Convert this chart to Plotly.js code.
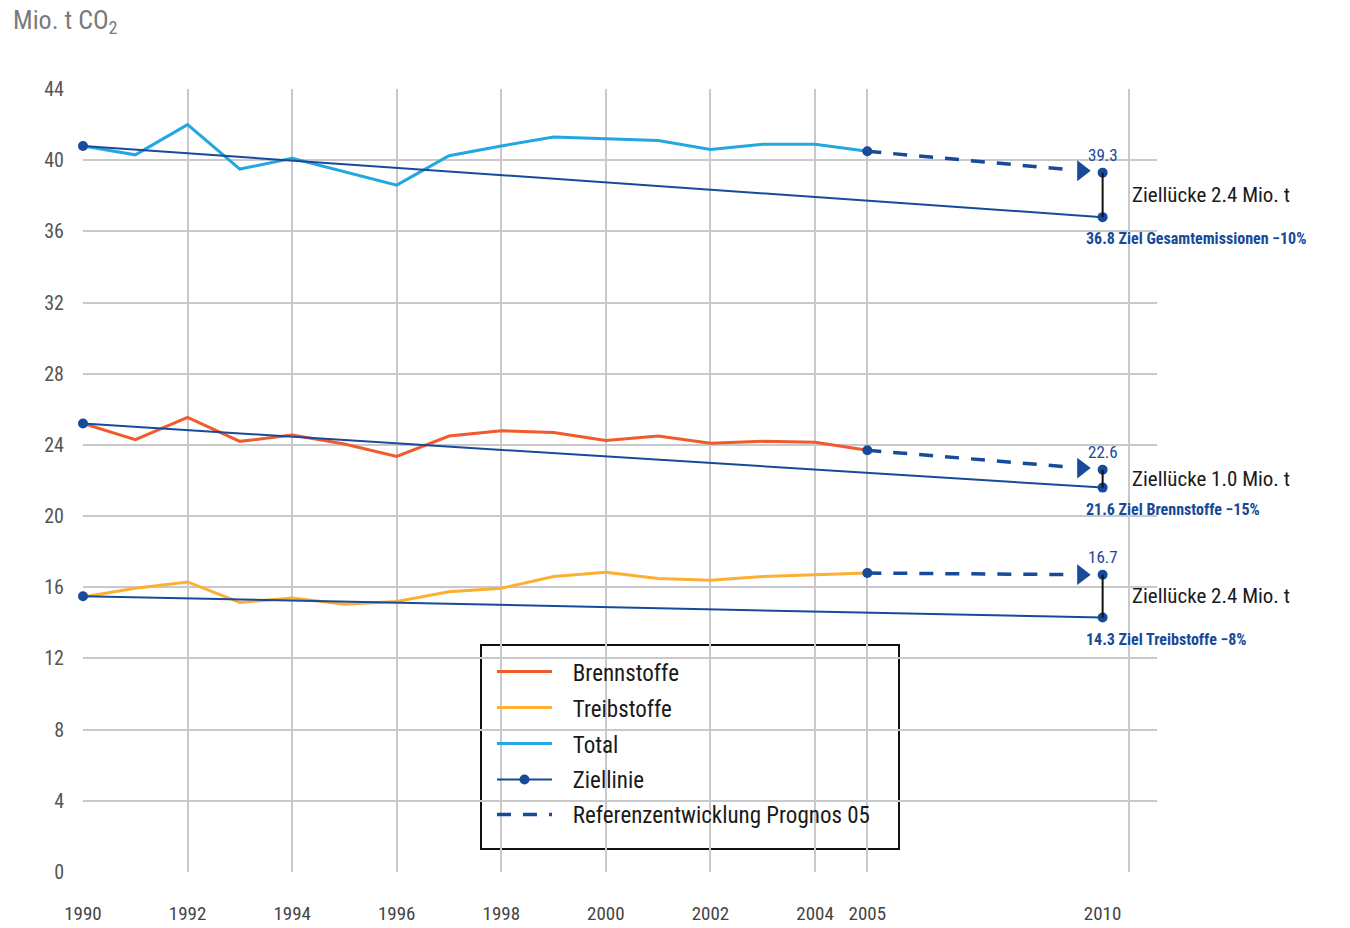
<!DOCTYPE html>
<html><head><meta charset="utf-8">
<script src="https://cdn.plot.ly/plotly-3.0.1.min.js"></script>
<style>html,body{margin:0;padding:0;background:#fff}#chart{width:1350px;height:928px}</style>
</head><body><div id="chart"></div>
<script>
// ---- data ----
const years = [1990,1991,1992,1993,1994,1995,1996,1997,1998,1999,2000,2001,2002,2003,2004,2005];
const brennstoffe = [25.2,24.3,25.55,24.2,24.55,24.05,23.35,24.5,24.8,24.7,24.25,24.5,24.1,24.2,24.15,23.7];
const treibstoffe = [15.45,15.95,16.3,15.15,15.4,15.05,15.2,15.75,15.95,16.6,16.85,16.5,16.4,16.6,16.7,16.8];
const total = [40.8,40.3,42.0,39.5,40.1,39.35,38.6,40.25,40.8,41.3,41.2,41.1,40.6,40.9,40.9,40.5];

// target year 2010 is drawn in the reference slightly left of the 2010 gridline
const zielYears = [1990, 2009.5];
const prognosYears = [2005, 2009.5];
const zielTotal = [40.8, 36.8];
const zielBrenn = [25.2, 21.6];
const zielTreib = [15.5, 14.3];
const progTotal = [40.5, 39.3];
const progBrenn = [23.7, 22.6];
const progTreib = [16.8, 16.7];

const gridYears = [1990,1992,1994,1996,1998,2000,2002,2004,2005,2010];
const labelYears = [1990,1992,1994,1996,1998,2000,2002,2004,2005,2009.5];
const labelText = ['1990','1992','1994','1996','1998','2000','2002','2004','2005','2010'];
const yTicks = [0,4,8,12,16,20,24,28,32,36,40,44];

const seriesNames = ['Brennstoffe','Treibstoffe','Total','Ziellinie','Referenzentwicklung Prognos 05'];
const zielTexts = ['Ziel Gesamtemissionen \u221210%','Ziel Brennstoffe \u221215%','Ziel Treibstoffe \u22128%'];
const gapTexts = ['Ziellücke 2.4 Mio. t','Ziellücke 1.0 Mio. t','Ziellücke 2.4 Mio. t'];

// ---- style ----
const FONT = '"Liberation Sans Narrow", "Arial Narrow", "Roboto Condensed", Roboto, sans-serif';
const C_BRENN = '#F15A2B', C_TREIB = '#FBB034', C_TOTAL = '#22A7E0', NAVY = '#174A9A';
const arrowX = 2009.1;
const PAD = '\u00a0\u00a0\u00a0';

const groups = [
  {ziel: zielTotal, prog: progTotal, zt: zielTexts[0], gt: gapTexts[0]},
  {ziel: zielBrenn, prog: progBrenn, zt: zielTexts[1], gt: gapTexts[1]},
  {ziel: zielTreib, prog: progTreib, zt: zielTexts[2], gt: gapTexts[2]}
];

const traces = [];
traces.push({x: years, y: brennstoffe, mode: 'lines', name: PAD + seriesNames[0], line: {color: C_BRENN, width: 3}, legend: 'legend', cliponaxis: false});
traces.push({x: years, y: treibstoffe, mode: 'lines', name: PAD + seriesNames[1], line: {color: C_TREIB, width: 3}, legend: 'legend2', cliponaxis: false});
traces.push({x: years, y: total, mode: 'lines', name: PAD + seriesNames[2], line: {color: C_TOTAL, width: 3}, legend: 'legend3', cliponaxis: false});

groups.forEach((g, i) => {
  traces.push({x: zielYears, y: g.ziel, mode: 'lines+markers', name: PAD + seriesNames[3],
    line: {color: NAVY, width: 2}, marker: {color: NAVY, size: 10},
    showlegend: i === 0, legend: 'legend4', cliponaxis: false});
});
groups.forEach((g, i) => {
  const frac = (x) => g.prog[0] + (g.prog[1] - g.prog[0]) * ((x - prognosYears[0]) / (prognosYears[1] - prognosYears[0]));
  traces.push({x: [prognosYears[0], arrowX - 0.15], y: [g.prog[0], frac(arrowX - 0.15)],
    mode: 'lines', name: PAD + seriesNames[4],
    line: {color: NAVY, width: 3.5, dash: '14px,12px'},
    showlegend: i === 0, legend: 'legend5', cliponaxis: false});
  traces.push({x: [arrowX], y: [frac(arrowX)], mode: 'markers', showlegend: false, hoverinfo: 'skip',
    marker: {symbol: 'triangle-right', color: NAVY, size: 18}, cliponaxis: false});
  traces.push({x: [prognosYears[1], prognosYears[1]], y: [g.ziel[1], g.prog[1]], mode: 'lines',
    showlegend: false, line: {color: '#111', width: 2}, xaxis: 'x2', cliponaxis: false});
  traces.push({x: prognosYears, y: g.prog, mode: 'markers', showlegend: false,
    marker: {color: NAVY, size: 10}, cliponaxis: false});
});

const annotations = [];
annotations.push({xref: 'paper', yref: 'paper', x: -0.067, y: 1.086, xanchor: 'left', yanchor: 'middle',
  text: 'Mio. t CO<sub>2</sub>', showarrow: false, font: {family: FONT, size: 26, color: '#7a7a7a'}});
groups.forEach((g) => {
  annotations.push({x: prognosYears[1], y: g.prog[1], text: g.prog[1].toFixed(1), showarrow: false,
    xanchor: 'center', yanchor: 'bottom', yshift: 6, font: {family: FONT, size: 17, color: NAVY}});
  annotations.push({x: prognosYears[1], y: g.ziel[1], text: '<b>' + g.ziel[1].toFixed(1) + ' ' + g.zt + '</b>', showarrow: false,
    xanchor: 'left', yanchor: 'top', xshift: -19, yshift: -10, font: {family: FONT, size: 16, color: NAVY}});
  annotations.push({x: prognosYears[1], y: (g.ziel[1] + g.prog[1]) / 2, text: g.gt, showarrow: false,
    xanchor: 'left', yanchor: 'middle', xshift: 27, font: {family: FONT, size: 21, color: '#1a1a1a'}});
});

function leg(yp) {
  return {x: 0.3808, y: yp, xanchor: 'left', yanchor: 'middle', bgcolor: 'rgba(0,0,0,0)', borderwidth: 0,
    font: {family: FONT, size: 23, color: '#1a1a1a'}, itemwidth: 55};
}

const layout = {
  width: 1350, height: 928,
  paper_bgcolor: '#fff', plot_bgcolor: '#fff',
  margin: {l: 83, r: 193, t: 89, b: 56},
  font: {family: FONT},
  showlegend: true,
  xaxis: {range: [1990, 2010.54], tickvals: gridYears, showticklabels: false, showgrid: true,
    gridcolor: '#c9c9cb', gridwidth: 2, zeroline: false, showline: false, ticks: ''},
  xaxis2: {range: [1990, 2010.54], overlaying: 'x', anchor: 'y', side: 'bottom', tickvals: labelYears, ticktext: labelText,
    showgrid: false, zeroline: false, showline: false, ticks: 'outside', ticklen: 24, tickcolor: 'rgba(0,0,0,0)',
    tickfont: {family: FONT, size: 19, color: '#444'}},
  yaxis: {range: [0, 44], tickvals: yTicks, showgrid: true, gridcolor: '#c9c9cb', gridwidth: 2, zeroline: false,
    showline: false, ticks: 'outside', ticklen: 14, tickcolor: 'rgba(0,0,0,0)',
    tickfont: {family: FONT, size: 20, color: '#555'}},
  legend: leg(0.2559), legend2: leg(0.2100), legend3: leg(0.1640), legend4: leg(0.1181), legend5: leg(0.0734),
  shapes: [{type: 'rect', xref: 'paper', yref: 'paper', x0: (481-83)/1074, x1: (899-83)/1074,
    y0: (872-849)/783, y1: (872-645)/783, line: {color: '#111', width: 2}, fillcolor: '#fff', layer: 'below'}],
  annotations: annotations
};

Plotly.newPlot('chart', traces, layout, {displayModeBar: false, staticPlot: true});
</script></body></html>
